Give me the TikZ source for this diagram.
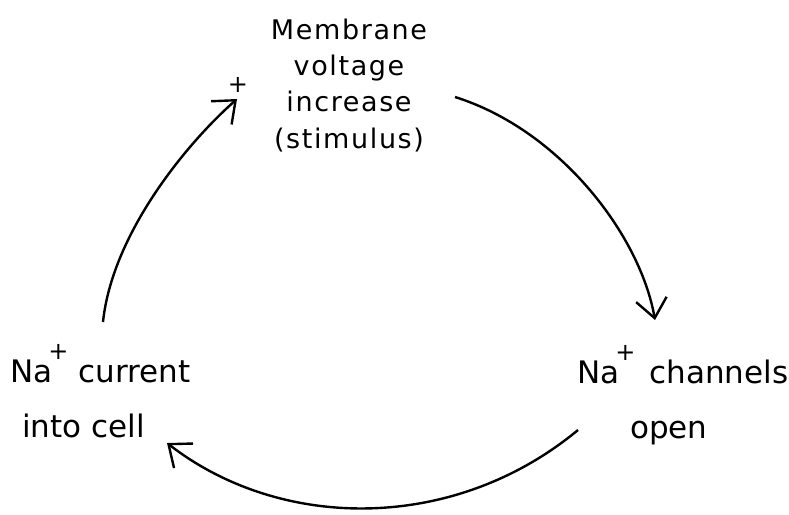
\documentclass[tikz,border=0pt]{standalone}
\usepackage{fontspec}
\setmainfont{DejaVu Sans}
\newfontfamily\topfont[LetterSpace=6]{DejaVu Sans}
\usetikzlibrary{arrows.meta}

\newcommand{\ionplus}[1]{\kern#1\raisebox{23pt}{\fontsize{24}{24}\selectfont +}}

\tikzset{
  stagetop/.style={align=center, font=\topfont\fontsize{27}{36.3}\selectfont},
  stageside/.style={align=left, font=\fontsize{31}{54.5}\selectfont},
  cyclearrow/.style={line width=2.4pt, -{Straight Barb[length=19pt,width=31pt]}}
}

\begin{document}
\begin{tikzpicture}[x=1pt, y=-1pt, every node/.style={inner sep=0pt}]
  \useasboundingbox (0,0) rectangle (789,514);

  % the three stages of the cycle
  \node[stagetop, anchor=north] (stimulus) at (349,18.5)
    {Membrane\\voltage\\increase\\(stimulus)};
  \node[stageside, anchor=north west] (current) at (10,344.6)
    {Na\ionplus{-4pt}\ current\\\hspace{12pt}into cell};
  \node[stageside, anchor=north west] (channels) at (577,345.6)
    {Na\ionplus{-4pt}\hspace{14pt}channels\\\hspace{53pt}open};
  \node[font=\fontsize{24}{24}\selectfont] (gain) at (238,85) {+};

  % arc ends
  \coordinate (a1s) at (103,322);
  \coordinate (a1e) at (237,99);
  \coordinate (a2s) at (455,97);
  \coordinate (a2e) at (655,320);
  \coordinate (a3s) at (578,430);
  \coordinate (a3e) at (167,443);

  \draw[cyclearrow] (a1s) .. controls (112,235) and (185,145) .. (a1e);
  \draw[cyclearrow] (a2s) .. controls (560,130) and (640,235) .. (a2e);
  \draw[cyclearrow] (a3s) .. controls (455,532) and (282,532) .. (a3e);
\end{tikzpicture}
\end{document}
